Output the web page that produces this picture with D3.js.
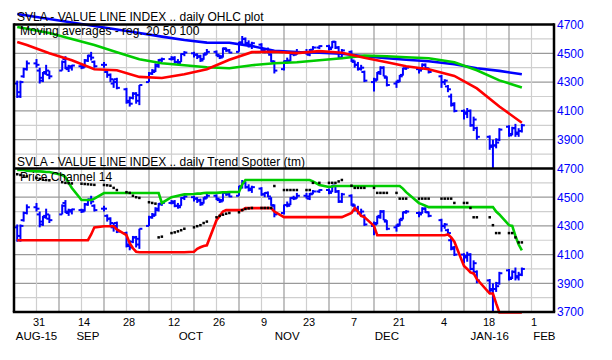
<!DOCTYPE html>
<html>
<head>
<meta charset="utf-8">
<script src="https://cdn.jsdelivr.net/npm/d3@7"></script>
<style>
body { margin: 0; background: #fff; }
text { font-family: "Liberation Sans", Arial, sans-serif; }
</style>
</head>
<body>
<svg id="chart" width="612" height="360"></svg>
<script>
// trading days shown
var days = ["2015-08-25","2015-08-26","2015-08-27","2015-08-28","2015-08-31",
  "2015-09-01","2015-09-02","2015-09-03","2015-09-04","2015-09-08","2015-09-09","2015-09-10","2015-09-11",
  "2015-09-14","2015-09-15","2015-09-16","2015-09-17","2015-09-18","2015-09-21","2015-09-22","2015-09-23",
  "2015-09-24","2015-09-25","2015-09-28","2015-09-29","2015-09-30",
  "2015-10-01","2015-10-02","2015-10-05","2015-10-06","2015-10-07","2015-10-08","2015-10-09","2015-10-12",
  "2015-10-13","2015-10-14","2015-10-15","2015-10-16","2015-10-19","2015-10-20","2015-10-21","2015-10-22",
  "2015-10-23","2015-10-26","2015-10-27","2015-10-28","2015-10-29","2015-10-30",
  "2015-11-02","2015-11-03","2015-11-04","2015-11-05","2015-11-06","2015-11-09","2015-11-10","2015-11-11",
  "2015-11-12","2015-11-13","2015-11-16","2015-11-17","2015-11-18","2015-11-19","2015-11-20","2015-11-23",
  "2015-11-24","2015-11-25","2015-11-27","2015-11-30",
  "2015-12-01","2015-12-02","2015-12-03","2015-12-04","2015-12-07","2015-12-08","2015-12-09","2015-12-10",
  "2015-12-11","2015-12-14","2015-12-15","2015-12-16","2015-12-17","2015-12-18","2015-12-21","2015-12-22",
  "2015-12-23","2015-12-24","2015-12-28","2015-12-29","2015-12-30","2015-12-31",
  "2016-01-04","2016-01-05","2016-01-06","2016-01-07","2016-01-08","2016-01-11","2016-01-12","2016-01-13",
  "2016-01-14","2016-01-15","2016-01-19","2016-01-20","2016-01-21","2016-01-22","2016-01-25","2016-01-26",
  "2016-01-27","2016-01-28","2016-01-29"];

var open = [4290,4230,4340,4390,4430, 4380,4330,4370,4350,4380,4460,4390,4400,
  4410,4410,4450,4480,4440,4420,4370,4350,4290,4320,4250,4170,4190,
  4220,4170,4300,4360,4380,4410,4455,4460,4460,4440,4440,4495,4500,4490,4480,4460,4500,4510,4480,4480,4530,4520,
  4510,4575,4600,4570,4550,4560,4520,4530,4490,4440,4390,4445,4450,4495,4495,4510,4490,4525,4540,4550,
  4540,4580,4540,4470,4510,4440,4420,4395,4370,4300,4320,4370,4400,4330,4290,4310,4350,4395,4390,4390,4420,4395,
  4340,4300,4270,4200,4150,4100,4090,4100,4000,3980,3920,3850,3860,3900,3990,3940,3980,3950,3960];
var high = [4310,4310,4400,4450,4460, 4400,4370,4420,4380,4450,4480,4420,4420,
  4420,4460,4490,4510,4450,4440,4380,4360,4320,4330,4260,4200,4230,
  4230,4280,4370,4390,4430,4460,4470,4480,4480,4460,4500,4515,4510,4500,4490,4500,4530,4520,4490,4540,4540,4530,
  4580,4620,4610,4590,4580,4570,4535,4540,4500,4450,4450,4470,4500,4510,4530,4530,4530,4550,4555,4560,
  4585,4585,4550,4530,4520,4450,4440,4420,4380,4330,4370,4410,4410,4340,4310,4350,4400,4410,4400,4430,4430,4400,
  4350,4320,4280,4220,4160,4110,4120,4110,4060,3990,3930,3900,3910,3980,4000,3990,4010,3980,4010];
var low = [4190,4190,4330,4380,4400, 4290,4300,4350,4320,4380,4390,4370,4380,
  4390,4400,4440,4450,4400,4400,4330,4300,4260,4250,4150,4130,4180,
  4150,4140,4300,4350,4370,4400,4440,4450,4430,4420,4440,4480,4470,4460,4440,4455,4490,4480,4460,4470,4510,4500,
  4510,4560,4560,4540,4530,4510,4500,4500,4440,4360,4380,4430,4445,4480,4490,4490,4480,4520,4530,4520,
  4535,4530,4460,4460,4440,4400,4380,4380,4300,4235,4310,4350,4340,4270,4260,4300,4345,4385,4360,4385,4390,4360,
  4260,4280,4230,4130,4090,4040,4050,3990,3960,3900,3830,3700,3840,3890,3920,3930,3920,3920,3950];
var close = [4200,4300,4390,4430,4420, 4310,4360,4380,4340,4440,4400,4410,4415,
  4400,4450,4485,4470,4410,4420,4350,4320,4300,4260,4160,4150,4220,
  4210,4280,4360,4370,4420,4450,4460,4470,4440,4430,4495,4505,4490,4475,4450,4490,4510,4490,4470,4535,4520,4505,
  4575,4600,4570,4560,4570,4520,4530,4505,4445,4380,4445,4440,4495,4490,4510,4505,4520,4540,4550,4530,
  4580,4540,4470,4520,4450,4420,4390,4400,4310,4310,4360,4400,4340,4280,4300,4340,4395,4400,4380,4420,4395,4370,
  4300,4310,4250,4140,4100,4080,4100,4000,4040,3920,3860,3860,3880,3970,3930,3980,3940,3960,4000];

// moving averages, read weekly
var maDays = ["2015-08-25","2015-08-28","2015-09-04","2015-09-11","2015-09-18","2015-09-25","2015-10-02",
  "2015-10-09","2015-10-16","2015-10-23","2015-10-30","2015-11-06","2015-11-13","2015-11-20","2015-11-27",
  "2015-12-04","2015-12-11","2015-12-18","2015-12-24","2015-12-31","2016-01-08","2016-01-15","2016-01-22","2016-01-29"];
var ma20 = [4578,4557,4501,4452,4389,4382,4336,4329,4354,4389,4455,4508,4511,4501,4515,4504,4469,4438,4410,4389,4343,4256,4130,4018];
var ma50 = [4683,4670,4641,4599,4557,4508,4459,4431,4417,4403,4396,4417,4431,4438,4452,4466,4484,4480,4473,4466,4438,4382,4312,4263];
var ma100 = [4773,4763,4738,4714,4690,4665,4641,4616,4592,4574,4573,4550,4518,4508,4504,4497,4480,4466,4455,4445,4424,4396,4378,4354];

// price channel 14 and trend spotter, daily
var chanHigh = [4690,4690,4690,4685,4680, 4680,4678,4676,4676,4655,4640,4600,4564,
  4480,4480,4480,4480,4490,4529,4529,4529,4529,4529,4529,4529,4529,
  4529,4529,4529,4529,4529,4529,4460,4500,4505,4510,4515,4520,4522,4525,4525,4529,4530,4530,4532,4534,4535,4536,
  4536,4590,4620,4620,4620,4620,4620,4620,4620,4620,4620,4620,4620,4620,4620,4620,4620,4610,4585,4571,
  4575,4578,4578,4578,4578,4578,4578,4578,4578,4578,4578,4578,4578,4578,4578,4578,4560,4535,4459,4450,4440,4431,
  4431,4431,4431,4431,4431,4431,4431,4431,4431,4431,4431,4431,4400,4380,4305,4300,4230,4170,4130];
var chanLow = [4200,4200,4200,4200,4200, 4200,4200,4200,4200,4200,4200,4200,4200,
  4200,4200,4200,4240,4290,4298,4298,4298,4298,4275,4235,4180,4144,
  4120,4116,4116,4116,4116,4116,4116,4116,4116,4116,4116,4116,4120,4140,4151,4160,4165,4340,4370,4400,4410,4410,
  4410,4410,4424,4424,4424,4424,4424,4424,4424,4400,4361,4361,4361,4361,4361,4361,4361,4361,4361,4361,
  4361,4361,4361,4361,4390,4424,4400,4370,4361,4300,4235,4235,4235,4235,4235,4235,4235,4235,4235,4235,4235,4235,
  4235,4235,4240,4220,4190,4020,4000,3976,3969,3930,3829,3829,3760,3697,3697,3697,3697,3697,3697];
var trend = [4660,4655,4650,4645,4635, 4628,4622,4620,4618,4605,4600,4598,4596,
  4594,4592,4590,4588,4586,4585,4583,4580,4565,4550,4535,4530,4510,
  4500,4495,4465,4460,4455,4220,4225,4250,4255,4262,4270,4280,4290,4298,4305,4320,4330,4360,4370,4378,4385,4390,
  4395,4410,4418,4422,4425,4425,4425,4425,4425,4578,4550,4550,4550,4550,4550,4550,4550,4600,4600,4600,
  4600,4600,4610,4620,4580,4565,4565,4565,4565,4565,4530,4530,4530,4530,4530,4490,4490,4490,4490,4490,4490,4490,
  4490,4490,4490,4490,4460,4460,4460,4425,4360,4360,4360,4305,4250,4250,4250,4250,4220,4185,4185];

var topTicks = [4700,4500,4300,4100,3900];
var botTicks = [4700,4500,4300,4100,3900,3700];
var dayTicks = ["2015-08-31","2015-09-14","2015-09-28","2015-10-12","2015-10-26","2015-11-09","2015-11-23",
  "2015-12-07","2015-12-21","2016-01-04","2016-01-18","2016-02-01"];
var monthLabels = ["AUG-15","SEP","OCT","NOV","DEC","JAN-16","FEB"];
var monthAt = ["2015-08-31","2015-09-16","2015-10-18","2015-11-17","2015-12-18","2016-01-19","2016-02-05"];

var parse = d3.timeParse("%Y-%m-%d");
var svg = d3.select("#chart");

var left = 14, right = 554;
var topY0 = 24.5, topY1 = 168.5, botY1 = 312;

var x = d3.scaleTime()
  .domain([new Date(2015, 7, 24), new Date(2016, 1, 8)])
  .range([left, right]);
var yTop = d3.scaleLinear().domain([3700, 4700]).range([topY1, topY0]);
var yBot = d3.scaleLinear().domain([3700, 4700]).range([botY1, topY1]);

var bars = days.map(function(d, i) {
  return { date: parse(d), o: open[i], h: high[i], l: low[i], c: close[i],
           up: chanHigh[i], dn: chanLow[i], ts: trend[i] };
});

// grid
var grid = svg.append("g");
d3.range(3800, 4700, 100).forEach(function(v) {
  [yTop, yBot].forEach(function(y) {
    grid.append("line")
      .attr("x1", left).attr("x2", right)
      .attr("y1", y(v)).attr("y2", y(v))
      .attr("stroke", v % 200 === 100 ? "#9a9a9a" : "#cfcfcf")
      .attr("stroke-width", 1.2);
  });
});
var mondays = d3.timeMonday.range(new Date(2015, 7, 31), new Date(2016, 1, 8));
mondays.forEach(function(m, i) {
  grid.append("line")
    .attr("x1", x(m)).attr("x2", x(m))
    .attr("y1", topY0).attr("y2", botY1)
    .attr("stroke", i % 2 === 0 ? "#cfcfcf" : "#9a9a9a")
    .attr("stroke-width", 1.2);
});

// OHLC bars in both panels
function drawBars(g, y) {
  var b = g.selectAll("g.bar").data(bars).enter().append("g").attr("class", "bar");
  b.append("line")
    .attr("x1", function(d) { return x(d.date); }).attr("x2", function(d) { return x(d.date); })
    .attr("y1", function(d) { return y(d.h); }).attr("y2", function(d) { return y(d.l); });
  b.append("line")
    .attr("x1", function(d) { return x(d.date) - 3; }).attr("x2", function(d) { return x(d.date); })
    .attr("y1", function(d) { return y(d.o); }).attr("y2", function(d) { return y(d.o); });
  b.append("line")
    .attr("x1", function(d) { return x(d.date); }).attr("x2", function(d) { return x(d.date) + 3; })
    .attr("y1", function(d) { return y(d.c); }).attr("y2", function(d) { return y(d.c); });
  b.selectAll("line").attr("stroke", "#0000ff").attr("stroke-width", 2);
}
drawBars(svg.append("g"), yTop);
drawBars(svg.append("g"), yBot);

// moving averages
var maPts = maDays.map(parse);
[[ma100, "#0000ff"], [ma50, "#00cc00"], [ma20, "#ff0000"]].forEach(function(s) {
  var line = d3.line()
    .x(function(d, i) { return x(maPts[i]); })
    .y(function(d) { return yTop(d); });
  svg.append("path")
    .attr("d", line(s[0]))
    .attr("fill", "none")
    .attr("stroke", s[1])
    .attr("stroke-width", 2.6);
});

// price channel
[["up", "#00cc00"], ["dn", "#ff0000"]].forEach(function(s) {
  var line = d3.line()
    .x(function(d) { return x(d.date); })
    .y(function(d) { return yBot(d[s[0]]); });
  svg.append("path")
    .attr("d", line(bars))
    .attr("fill", "none")
    .attr("stroke", s[1])
    .attr("stroke-width", 2.6);
});

// trend spotter dots
svg.append("g").selectAll("rect").data(bars).enter().append("rect")
  .attr("x", function(d) { return x(d.date) - 1.25; })
  .attr("y", function(d) { return yBot(d.ts) - 1.25; })
  .attr("width", 2.5).attr("height", 2.5)
  .attr("fill", "#000");

// frame
var frame = svg.append("g").attr("stroke", "#000").attr("stroke-width", 2.5);
frame.append("line").attr("x1", left).attr("x2", right).attr("y1", topY0).attr("y2", topY0);
frame.append("line").attr("x1", left).attr("x2", right).attr("y1", topY1).attr("y2", topY1);
frame.append("line").attr("x1", left - 1.2).attr("x2", right + 1.2).attr("y1", botY1).attr("y2", botY1);
frame.append("line").attr("x1", left).attr("x2", left).attr("y1", topY0 - 1.2).attr("y2", botY1);
frame.append("line").attr("x1", right).attr("x2", right).attr("y1", topY0 - 1.2).attr("y2", botY1);

// right axes
function rightAxis(y, ticks) {
  var g = svg.append("g").attr("transform", "translate(" + right + ",0)")
    .call(d3.axisRight(y).tickValues(ticks).tickSize(0).tickPadding(3).tickFormat(d3.format("d")));
  g.select(".domain").remove();
  g.selectAll("text").attr("fill", "#0000ff").style("font-size", "12px")
    .style("font-family", "'Liberation Sans', Arial, sans-serif");
}
rightAxis(yTop, topTicks);
rightAxis(yBot, botTicks);

// bottom axis
var xa = svg.append("g").attr("transform", "translate(2," + botY1 + ")")
  .call(d3.axisBottom(x).tickValues(dayTicks.map(parse)).tickSize(0).tickPadding(6)
    .tickFormat(d3.timeFormat("%-d")));
xa.select(".domain").remove();
xa.selectAll("text").attr("fill", "#000").style("font-size", "11px")
  .style("font-family", "'Liberation Sans', Arial, sans-serif");

svg.append("g").selectAll("text").data(monthLabels).enter().append("text")
  .attr("x", function(d, i) { return x(parse(monthAt[i])); })
  .attr("y", 339.5)
  .attr("text-anchor", "middle")
  .style("font-size", "11.5px")
  .text(function(d) { return d; });

// titles
function label(t, tx, ty) {
  svg.append("text").attr("x", tx).attr("y", ty).style("font-size", "12px").attr("fill", "#000").text(t);
}
label("SVLA - VALUE LINE INDEX .. daily OHLC plot", 17, 20.5);
label("Moving averages - reg. 20 50 100", 20, 34.5);
label("SVLA - VALUE LINE INDEX .. daily Trend Spotter (tm)", 17, 166);
label("Price Channel 14", 20, 181);
</script>
</body>
</html>
